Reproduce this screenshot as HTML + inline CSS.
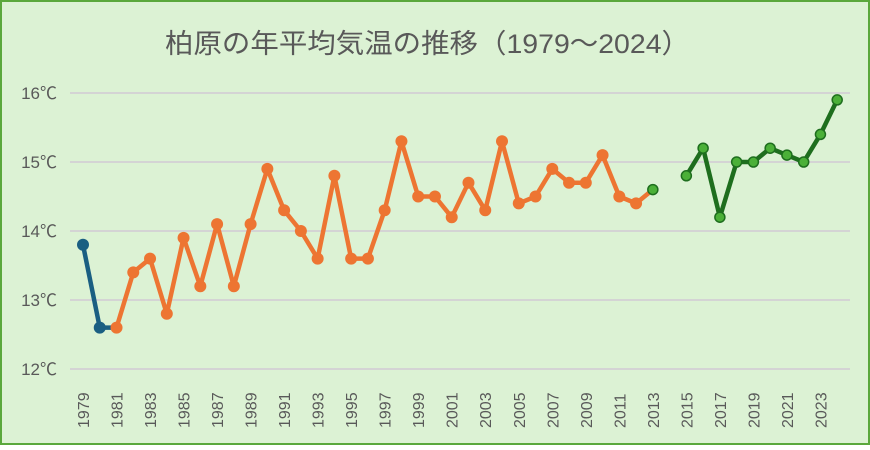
<!DOCTYPE html>
<html><head><meta charset="utf-8"><style>
html,body{margin:0;padding:0;background:#fff}
#c{width:870px;height:445px;}
</style></head><body>
<div id="c"><svg id="s" width="870" height="445" xmlns="http://www.w3.org/2000/svg" font-family="'Liberation Sans','Noto Sans CJK JP',sans-serif">
<rect x="1" y="1" width="868" height="443" fill="#dcf2d4" stroke="#5aa83c" stroke-width="2"/>
<text x="165" y="53" font-size="27" fill="#595959" textLength="525" lengthAdjust="spacingAndGlyphs">柏原の年平均気温の推移（1979～2024）</text>
</svg></div>
<script>
var s=document.getElementById('s'),NS='http://www.w3.org/2000/svg';
function el(t,a,txt){var e=document.createElementNS(NS,t);for(var k in a)e.setAttribute(k,a[k]);if(txt!=null)e.textContent=txt;s.appendChild(e);return e;}
function X(y){return 83+(y-1979)*16.76;}
function Y(v){return 93+(16-v)*69;}
for(var t=12;t<=16;t++){el('line',{x1:70,x2:850,y1:Y(t),y2:Y(t),stroke:'#d4d4d4','stroke-width':2});
el('text',{x:57,y:Y(t)+6,'text-anchor':'end','font-size':17,fill:'#595959'},t+'℃');}
for(var y=1979;y<=2023;y+=2){var x=X(y)+6;el('text',{x:x,y:428,'font-size':16,fill:'#595959',transform:'rotate(-90 '+x+' 428)'},y);}
var blue=[[1979,13.8],[1980,12.6],[1981,12.6]];
var ora=[12.6,13.4,13.6,12.8,13.9,13.2,14.1,13.2,14.1,14.9,14.3,14.0,13.6,14.8,13.6,13.6,14.3,15.3,14.5,14.5,14.2,14.7,14.3,15.3,14.4,14.5,14.9,14.7,14.7,15.1,14.5,14.4,14.6].map(function(v,i){return [1981+i,v];});
var gr=[[2015,14.8],[2016,15.2],[2017,14.2],[2018,15.0],[2019,15.0],[2020,15.2],[2021,15.1],[2022,15.0],[2023,15.4],[2024,15.9]];
function line(d,c){el('polyline',{points:d.map(function(p){return X(p[0])+','+Y(p[1]);}).join(' '),fill:'none',stroke:c,'stroke-width':4.5,'stroke-linejoin':'round'});}
line(blue,'#1a5f82');line(ora,'#ed7532');line(gr,'#1e6e1e');
blue.slice(0,2).forEach(function(p){el('circle',{cx:X(p[0]),cy:Y(p[1]),r:6,fill:'#1a5f82'});});
ora.slice(0,32).forEach(function(p){el('circle',{cx:X(p[0]),cy:Y(p[1]),r:6,fill:'#ed7532'});});
gr.concat([[2013,14.6]]).forEach(function(p){el('circle',{cx:X(p[0]),cy:Y(p[1]),r:5,fill:'#4bb038',stroke:'#1e6e1e','stroke-width':1.5});});
</script>
</body></html>
